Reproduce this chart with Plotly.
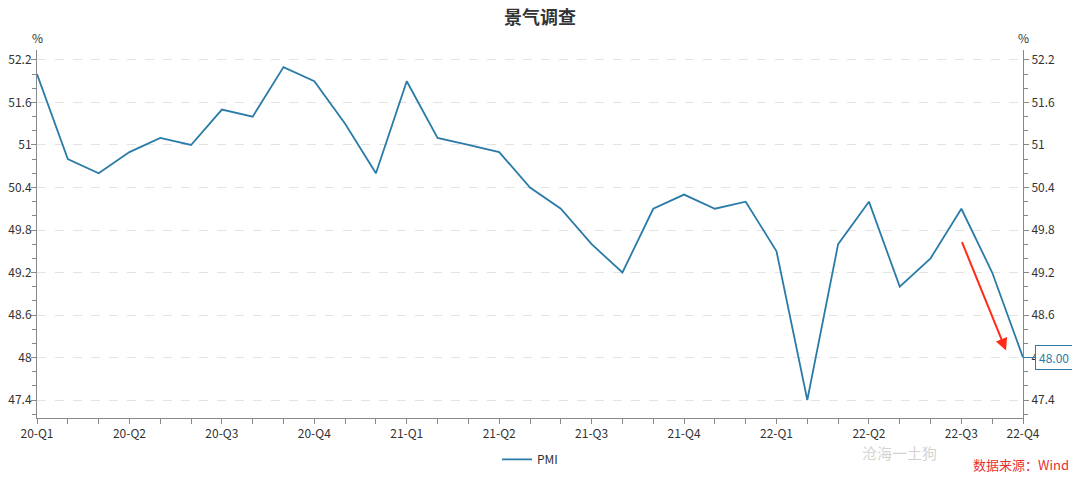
import plotly.graph_objects as go

months = ["2020-03","2020-04","2020-05","2020-06","2020-07","2020-08","2020-09","2020-10","2020-11","2020-12",
          "2021-01","2021-02","2021-03","2021-04","2021-05","2021-06","2021-07","2021-08","2021-09","2021-10","2021-11","2021-12",
          "2022-01","2022-02","2022-03","2022-04","2022-05","2022-06","2022-07","2022-08","2022-09","2022-10","2022-11"]
pmi = [52.0, 50.8, 50.6, 50.9, 51.1, 51.0, 51.5, 51.4, 52.1, 51.9,
       51.3, 50.6, 51.9, 51.1, 51.0, 50.9, 50.4, 50.1, 49.6, 49.2, 50.1, 50.3,
       50.1, 50.2, 49.5, 47.4, 49.6, 50.2, 49.0, 49.4, 50.1, 49.2, 48.0]
quarter_labels = {"2020-03": "20-Q1", "2020-06": "20-Q2", "2020-09": "20-Q3", "2020-12": "20-Q4",
                  "2021-03": "21-Q1", "2021-06": "21-Q2", "2021-09": "21-Q3", "2021-12": "21-Q4",
                  "2022-03": "22-Q1", "2022-06": "22-Q2", "2022-09": "22-Q3", "2022-11": "22-Q4"}
ticktext = [quarter_labels.get(m, "") for m in months]

LINE = "#2b7ba8"
AX = "#888888"
FONT = "Noto Sans CJK SC"

fig = go.Figure()
fig.add_trace(go.Scatter(x=months, y=pmi, mode="lines", name="PMI",
                         line=dict(color=LINE, width=1.8)))
fig.add_trace(go.Scatter(x=months, y=pmi, mode="lines", yaxis="y2", showlegend=False,
                         hoverinfo="skip", opacity=0, line=dict(color=LINE, width=0)))

yrange = [47.146, 52.341]
yaxis_common = dict(range=yrange, tick0=47.4, dtick=0.6, ticks="outside", ticklen=5,
                    tickcolor=AX, showline=True, linecolor=AX, linewidth=1, automargin=False,
                    tickfont=dict(size=12, color="#333333", family=FONT),
                    minor=dict(dtick=0.2, tick0=47.4, ticks="outside", ticklen=4, tickcolor=AX, showgrid=False),
                    zeroline=False)

# the page body adds an 8px margin, so the figure is sized/offset to compensate
fig.update_layout(
    width=1064, height=465,
    margin=dict(l=29, r=49, t=42, b=55, autoexpand=False),
    paper_bgcolor="white", plot_bgcolor="white",
    font=dict(family=FONT, color="#333333"),
    title=dict(text="<b>景气调查</b>", x=0.5, xanchor="center", y=0.9935, yanchor="top",
               pad=dict(t=0, b=0), font=dict(size=18, color="#333333", family=FONT)),
    xaxis=dict(type="category", categoryorder="array", categoryarray=months,
               range=[0, len(months) - 1], tickvals=months, ticktext=ticktext, automargin=False,
               ticks="outside", ticklen=5, tickcolor=AX, showline=True, linecolor=AX,
               showgrid=False, tickfont=dict(size=12, color="#333333", family=FONT)),
    yaxis=dict(**yaxis_common, side="left", showgrid=True, gridcolor="#e3e3e3", griddash="dash",
               ticklabelstandoff=-3),
    yaxis2=dict(**yaxis_common, side="right", overlaying="y", showgrid=False),
    legend=dict(orientation="h", x=0.5, xanchor="center", y=-0.073, yanchor="top",
                font=dict(size=12, color="#333333", family=FONT)),
    showlegend=True,
)

annotations = [
    dict(text="%", xref="paper", yref="paper", x=0, y=1.035, showarrow=False,
         font=dict(size=12, color="#333333"), xanchor="center", yanchor="middle"),
    dict(text="%", xref="paper", yref="paper", x=1, y=1.035, showarrow=False,
         font=dict(size=12, color="#333333"), xanchor="center", yanchor="middle"),
    dict(text="数据来源：Wind", xref="paper", yref="paper", x=1.0487, y=-0.127, showarrow=False,
         xanchor="right", yanchor="middle", font=dict(size=13, color="#e8312f", family=FONT)),
    dict(text="48.00", x=len(months) - 1, y=pmi[-1], xref="x", yref="y", showarrow=True,
         ax=31, ay=0, arrowhead=0, arrowwidth=1, arrowcolor=LINE, standoff=0,
         bordercolor=LINE, borderwidth=1, borderpad=3, bgcolor="white",
         font=dict(size=12, color=LINE, family=FONT)),
    dict(text="", x=31.45, y=48.1, ax=30, ay=49.65, xref="x", yref="y", axref="x", ayref="y",
         showarrow=True, arrowhead=2, arrowsize=1.2, arrowwidth=2, arrowcolor="#ff2a1a"),
    dict(text="沧海一土狗", xref="paper", yref="paper", x=0.875, y=-0.094, showarrow=False,
         xanchor="center", yanchor="middle",
         font=dict(size=15, color="rgba(180,180,180,0.6)", family=FONT)),
]
fig.update_layout(annotations=annotations)

fig.write_html("out.html")
